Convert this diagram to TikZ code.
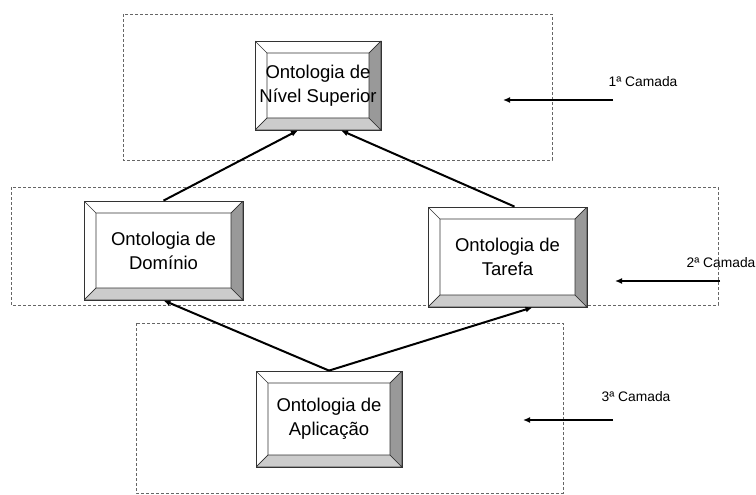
\documentclass[tikz,border=0pt]{standalone}
\usepackage{fontspec}
\setmainfont{Liberation Sans}
\usetikzlibrary{arrows.meta, calc}

\begin{document}
\begin{tikzpicture}[
    x=1pt, y=-1pt,
    bevel/.style={rectangle, draw=black!80, line width=0.8pt, align=center, inner sep=0pt,
        font=\fontsize{18.5}{24}\selectfont,
        path picture={
            \coordinate (nw) at (path picture bounding box.north west);
            \coordinate (ne) at (path picture bounding box.north east);
            \coordinate (sw) at (path picture bounding box.south west);
            \coordinate (se) at (path picture bounding box.south east);
            \filldraw[face, fill=black!20] (sw) -- (se) -- ($(se)+(-12,-12)$) -- ($(sw)+(12,-12)$) -- cycle;
            \filldraw[face, fill=black!40] (ne) -- (se) -- ($(se)+(-12,-12)$) -- ($(ne)+(-12,12)$) -- cycle;
            \draw[face] (nw) -- ($(nw)+(12,12)$) -- ($(ne)+(-12,12)$) -- (ne);
            \draw[face] ($(nw)+(12,12)$) -- ($(sw)+(12,-12)$) -- (sw);
        }},
    face/.style={draw=black!80, line width=0.6pt},
    layer/.style={draw=black!60, dash pattern=on 3pt off 2pt, line width=0.8pt},
    arrow/.style={-{Latex[length=7pt, width=6pt]}, line width=2pt},
    tag/.style={font=\fontsize{13.8}{16}\selectfont}
]
    \useasboundingbox (0,0) rectangle (756,495);

    % Layers
    \draw[layer] (123,14) rectangle (552,160);
    \draw[layer] (11,187) rectangle (718,305);
    \draw[layer] (136,323) rectangle (563,493);

    % Ontologies
    \node[bevel, minimum width=126pt, minimum height=89pt] (sup) at (318,85.5) {Ontologia de\\Nível Superior};
    \node[bevel, minimum width=159pt, minimum height=99pt] (dom) at (163.5,250.5) {Ontologia de\\Domínio};
    \node[bevel, minimum width=159pt, minimum height=100pt] (tar) at (507.5,257) {Ontologia de\\Tarefa};
    \node[bevel, minimum width=146pt, minimum height=96pt] (apl) at (329,419) {Ontologia de\\Aplicação};

    % Connectors
    \draw[arrow] (dom.north) -- ($(sup.south)+(-20,0)$);
    \draw[arrow] ($(tar.north)+(7,0)$) -- ($(sup.south)+(23,0)$);
    \draw[arrow] (apl.north) -- (dom.south);
    \draw[arrow] (apl.north) -- ($(tar.south)+(25,0)$);

    % Layer labels
    \node[tag] (c1) at (643,82) {1ª Camada};
    \node[tag] (c2) at (721,263) {2ª Camada};
    \node[tag] (c3) at (636,397) {3ª Camada};
    \coordinate (s1) at (613,100);
    \coordinate (e1) at (503,100);
    \coordinate (s2) at (720,281);
    \coordinate (e2) at (615,281);
    \coordinate (s3) at (613,420);
    \coordinate (e3) at (523,420);
    \draw[arrow] (s1) -- (e1);
    \draw[arrow] (s2) -- (e2);
    \draw[arrow] (s3) -- (e3);
\end{tikzpicture}
\end{document}
